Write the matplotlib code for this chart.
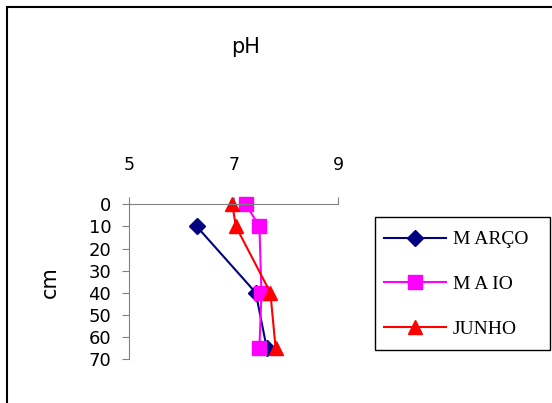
import matplotlib
matplotlib.use("Agg")
import matplotlib.pyplot as plt
from matplotlib.patches import Rectangle

# pH por profundidade (cm)
prof_marco = [10, 40, 65]
ph_marco = [6.29, 7.42, 7.63]

prof_maio = [0, 10, 40, 65]
ph_maio = [7.23, 7.49, 7.53, 7.49]

prof_junho = [0, 10, 40, 65]
ph_junho = [6.97, 7.04, 7.70, 7.80]

x_ticks = [5, 7, 9]
y_ticks = [0, 10, 20, 30, 40, 50, 60, 70]

FONT = "DejaVu Sans"
SERIF = "Liberation Serif"
SPINE = "#808080"

fig = plt.figure(figsize=(5.52, 4.03), dpi=100)
fig.patch.set_facecolor("white")
# moldura externa do gráfico
fig.patches.append(Rectangle((7 / 552, -0.1), 2, 1.1 - 7 / 403, transform=fig.transFigure,
                             fill=False, edgecolor="black", linewidth=1.5))

ax = fig.add_axes([129.3 / 552, 1 - 359 / 403, 209 / 552, 154.7 / 403])

ax.plot(ph_marco, prof_marco, color="#000080", linewidth=1.5, marker="D",
        markersize=8, label="M ARÇO", clip_on=False)
ax.plot(ph_maio, prof_maio, color="#FF00FF", linewidth=1.5, marker="s",
        markersize=10.5, label="M A IO", clip_on=False)
ax.plot(ph_junho, prof_junho, color="#FF0000", linewidth=1.5, marker="^",
        markersize=10.5, label="JUNHO", clip_on=False)

ax.set_xlim(5, 9)
ax.set_ylim(70, 0)
ax.set_xticks(x_ticks)
ax.set_yticks(y_ticks)
ax.xaxis.tick_top()
for sp in ["right", "bottom"]:
    ax.spines[sp].set_visible(False)
for sp in ["left", "top"]:
    ax.spines[sp].set_color(SPINE)
ax.tick_params(axis="x", colors=SPINE, length=5, pad=17, labelcolor="black",
               labelsize=12.5)
ax.tick_params(axis="y", colors=SPINE, length=5, pad=8, labelcolor="black",
               labelsize=13)
for t in ax.get_xticklabels() + ax.get_yticklabels():
    t.set_fontfamily(FONT)

ax.set_ylabel("cm", fontsize=15, fontfamily=FONT)
ax.yaxis.set_label_coords(-0.33, 0.5)
fig.text(246 / 552, 1 - 47 / 403, "pH", fontsize=15, fontfamily=FONT,
         ha="center", va="center")

# caixa da legenda
fig.patches.append(Rectangle((375 / 552, 1 - 350 / 403), 175 / 552, 133 / 403,
                             transform=fig.transFigure, fill=False,
                             edgecolor="black", linewidth=1.0))
fig.legend(loc="upper left", bbox_to_anchor=(375 / 552, 1 - 222 / 403),
           frameon=False, prop={"family": SERIF, "size": 14}, handlelength=3.2,
           labelspacing=1.4, borderpad=0.45, handletextpad=0.36,
           borderaxespad=0)

fig.savefig("out.png", dpi=100, facecolor="white")
